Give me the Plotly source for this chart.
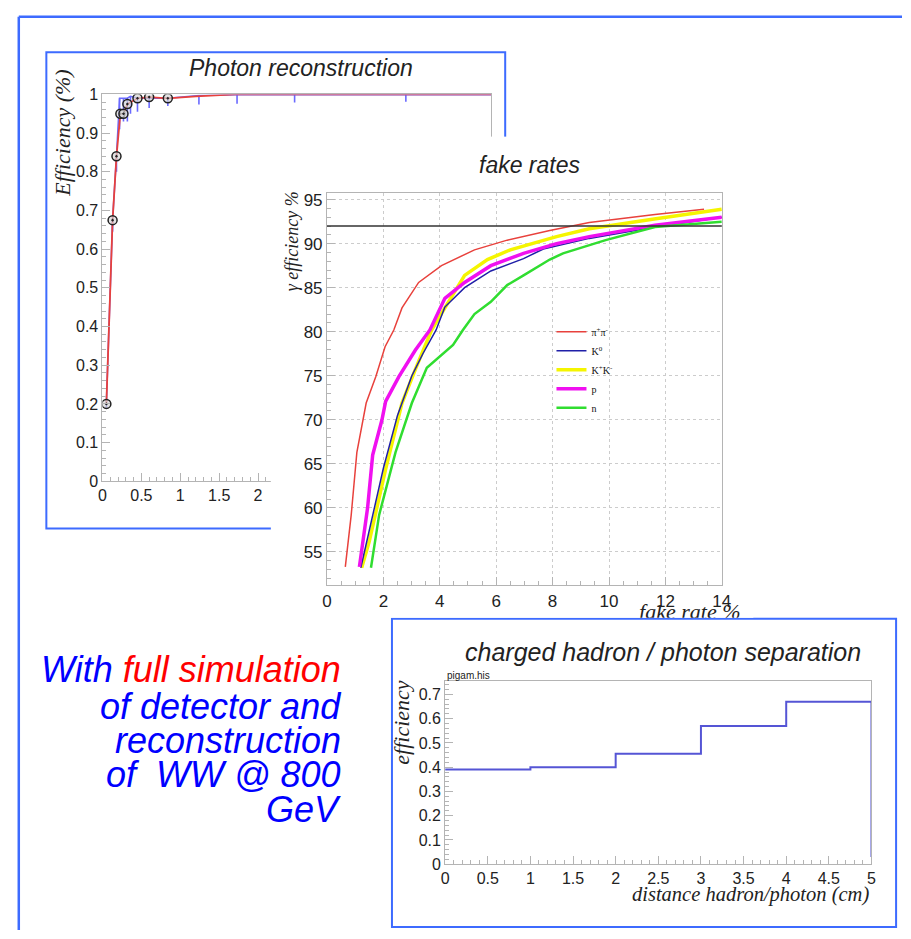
import plotly.graph_objects as go

W, H = 911, 939

# ---------------- data ----------------
# Panel 1: Photon reconstruction (efficiency vs. x)
PR_RED_X = [0.05, 0.13, 0.18, 0.23, 0.27, 0.32, 0.45, 0.6, 0.84, 1.2, 1.7, 2.5, 5.0]
PR_RED_Y = [0.2, 0.675, 0.84, 0.95, 0.95, 0.975, 0.99, 0.993, 0.99, 0.995, 1.0, 1.0, 1.0]
PR_BLUE_X = [0.05, 0.13, 0.18, 0.22, 0.27, 0.32, 0.36, 0.45, 0.6, 0.84, 1.24, 1.73, 2.47, 3.9, 5.0]
PR_BLUE_Y = [0.2, 0.675, 0.84, 0.99, 0.99, 0.99, 0.995, 0.99, 0.99, 0.99, 0.997, 0.999, 0.999, 0.999, 0.999]
PR_BLUE_ERR = [0.01, 0.03, 0.04, 0.08, 0.06, 0.06, 0.045, 0.035, 0.025, 0.02, 0.023, 0.023, 0.02, 0.018, 0.0]
PR_MARK_X = [0.05, 0.13, 0.18, 0.23, 0.27, 0.32, 0.45, 0.6, 0.84]
PR_MARK_Y = [0.2, 0.675, 0.84, 0.95, 0.95, 0.975, 0.99, 0.993, 0.99]

# Panel 2: fake rates (gamma efficiency % vs fake rate %)
FR_NAMES = ["π<sup>+</sup>π<sup>-</sup>", "K<sup>0</sup>", "K<sup>+</sup>K<sup>-</sup>", "p", "n"]
FR_PIPI_X = [0.65, 0.86, 1.06, 1.39, 1.73, 2.06, 2.37, 2.66, 3.25, 4.06, 5.23, 6.39, 7.9, 9.3, 11.63, 13.37]
FR_PIPI_Y = [53.3, 59.2, 66.3, 71.9, 74.9, 78.3, 80.2, 82.7, 85.6, 87.5, 89.3, 90.4, 91.5, 92.4, 93.3, 93.9]
FR_K0_X = [1.2, 1.5, 2.0, 2.5, 3.01, 3.4, 3.87, 4.18, 4.88, 5.81, 6.97, 7.67, 9.3, 11.63, 14.0]
FR_K0_Y = [53.2, 57.5, 64.5, 70.5, 75.0, 77.5, 80.2, 82.8, 85.0, 86.9, 88.3, 89.4, 90.6, 91.9, 93.0]
FR_KK_X = [1.23, 1.5, 2.08, 2.66, 3.13, 3.71, 4.18, 4.88, 5.69, 6.5, 8.14, 9.3, 11.6, 14.0]
FR_KK_Y = [53.2, 56.2, 64.4, 71.9, 75.7, 80.2, 82.7, 86.4, 88.2, 89.3, 90.8, 91.7, 92.8, 93.9]
FR_P_X = [1.15, 1.44, 1.62, 1.95, 2.08, 2.55, 3.13, 3.65, 4.18, 4.88, 5.81, 6.97, 8.14, 9.3, 11.63, 14.0]
FR_P_Y = [53.3, 60.0, 66.0, 70.0, 72.1, 74.9, 77.9, 80.2, 83.8, 85.6, 87.5, 88.9, 90.0, 90.8, 92.1, 93.0]
FR_N_X = [1.56, 1.85, 2.43, 3.01, 3.54, 4.0, 4.47, 4.82, 5.23, 5.81, 6.39, 6.97, 7.9, 8.37, 9.88, 11.63, 12.79, 14.0]
FR_N_Y = [53.2, 59.2, 66.3, 71.9, 75.9, 77.2, 78.5, 80.2, 82.0, 83.4, 85.3, 86.4, 88.2, 88.9, 90.4, 91.9, 92.2, 92.5]
FR_THRESHOLD = 92

# Panel 3: charged hadron / photon separation (histogram)
SEP_BIN_EDGES = [0, 1, 2, 3, 4, 5]
SEP_BIN_VALUES = [0.39, 0.40, 0.455, 0.57, 0.67]
SEP_END_VALUE = 0.03


def fx(p):
    """page pixel x -> paper fraction"""
    return p / W


def fy(p):
    """page pixel y -> paper fraction"""
    return 1 - p / H


SANS = "Liberation Sans, Arial, sans-serif"
SERIF = "Liberation Serif, Times New Roman, serif"
FRAME = "#3d6bff"
AXC = "#b4b4b4"
TXT = "#222222"

fig = go.Figure()

# ---- panel 1 traces ----
fig.add_trace(go.Scatter(
    x=PR_BLUE_X, y=PR_BLUE_Y, mode="lines", xaxis="x", yaxis="y",
    line=dict(color="#6a6aff", width=1.6),
    error_y=dict(type="data", symmetric=False, array=[0] * len(PR_BLUE_ERR),
                 arrayminus=PR_BLUE_ERR, color="#6a6aff", thickness=1.6, width=0),
    showlegend=False, hoverinfo="skip"))
fig.add_trace(go.Scatter(
    x=PR_RED_X, y=PR_RED_Y, mode="lines", xaxis="x", yaxis="y",
    line=dict(color="#e8413c", width=1.8), showlegend=False, hoverinfo="skip"))
fig.add_trace(go.Scatter(
    x=PR_MARK_X, y=PR_MARK_Y, mode="markers", xaxis="x", yaxis="y",
    marker=dict(symbol="circle-dot", size=9, color="rgba(215,215,215,0.7)",
                line=dict(color="#222", width=1.5)),
    showlegend=False, hoverinfo="skip"))

# ---- cover (white sheet of the fake-rate picture); its x/y are page pixels ----
fig.add_trace(go.Scatter(
    x=[747], y=[617], mode="text", xaxis="x2", yaxis="y2",
    text=["<i>fake rate %</i>"], textposition="middle left",
    textfont=dict(family=SERIF, size=22, color=TXT),
    cliponaxis=True, showlegend=False, hoverinfo="skip"))

# ---- panel 2 traces ----
series = [
    (FR_PIPI_X, FR_PIPI_Y, FR_NAMES[0], "#e8413c", 1.5, 1),
    (FR_KK_X, FR_KK_Y, FR_NAMES[2], "#f5f500", 3.5, 3),
    (FR_K0_X, FR_K0_Y, FR_NAMES[1], "#1f1fa8", 1.5, 2),
    (FR_P_X, FR_P_Y, FR_NAMES[3], "#f010f0", 3.5, 4),
    (FR_N_X, FR_N_Y, FR_NAMES[4], "#30dd30", 2.5, 5),
]
for sx, sy, name, col, lw, rank in series:
    fig.add_trace(go.Scatter(
        x=sx, y=sy, mode="lines", name=name, xaxis="x3", yaxis="y3",
        line=dict(color=col, width=lw), legendrank=rank, hoverinfo="skip"))

# ---- panel 3 trace ----
step_x = SEP_BIN_EDGES[:-1] + [SEP_BIN_EDGES[-1], SEP_BIN_EDGES[-1]]
step_y = SEP_BIN_VALUES + [SEP_BIN_VALUES[-1], SEP_END_VALUE]
fig.add_trace(go.Scatter(
    x=step_x, y=step_y, mode="lines", line_shape="hv", xaxis="x4", yaxis="y4",
    line=dict(color="#5555d5", width=2), showlegend=False, hoverinfo="skip"))


def axis(domain, rng, dtick, minor_dtick, anchor, grid=False, size=16):
    return dict(
        domain=domain, range=rng, anchor=anchor, dtick=dtick, tick0=0,
        ticks="inside", ticklen=8, tickwidth=1, tickcolor=AXC,
        showline=True, linecolor=AXC, linewidth=1, mirror=True,
        showgrid=grid, gridcolor="#cccccc", griddash="dot", gridwidth=1,
        zeroline=False, tickfont=dict(family=SANS, size=size, color=TXT),
        minor=dict(ticks="inside", ticklen=4, dtick=minor_dtick, tickcolor=AXC, showgrid=False),
        fixedrange=True,
    )


hidden = dict(showline=False, showgrid=False, zeroline=False, showticklabels=False,
              ticks="", fixedrange=True)

layout = dict(
    width=W, height=H, margin=dict(l=0, r=0, t=0, b=0),
    paper_bgcolor="white", plot_bgcolor="white",
    xaxis=axis([fx(99), fx(494)], [0, 5], 0.5, 0.1, "y"),
    yaxis=axis([fy(482), fy(88)], [0, 1], 0.1, 0.02, "x"),
    xaxis2=dict(domain=[fx(270), fx(760)], range=[270, 760], anchor="y2", **hidden),
    yaxis2=dict(domain=[fy(621), fy(131)], range=[621, 131], anchor="x2", **hidden),
    xaxis3=axis([fx(327), fx(728)], [0, 14], 2, 0.5, "y3", grid=True, size=17),
    yaxis3=axis([fy(588), fy(188)], [51.2, 95.8], 5, 1, "x3", grid=True, size=17),
    xaxis4=axis([fx(447), fx(880)], [0, 5], 0.5, 0.1, "y4"),
    yaxis4=axis([fy(872), fy(685)], [0, 0.757], 0.1, 0.02, "x4"),
    showlegend=True,
    legend=dict(x=fx(555), y=fy(315), xanchor="left", yanchor="top",
                bgcolor="rgba(0,0,0,0)", borderwidth=0, tracegroupgap=0,
                font=dict(family=SERIF, size=10, color="#111")),
)
fig.update_layout(**layout)

shapes = [
    dict(type="line", xref="paper", yref="paper", x0=fx(14), x1=fx(911), y0=fy(9), y1=fy(9),
         line=dict(color=FRAME, width=2.5), layer="below"),
    dict(type="line", xref="paper", yref="paper", x0=fx(14), x1=fx(14), y0=fy(9), y1=fy(939),
         line=dict(color=FRAME, width=2.5), layer="below"),
    dict(type="rect", xref="paper", yref="paper", x0=fx(42), x1=fx(508), y0=fy(530), y1=fy(45),
         line=dict(color=FRAME, width=2), layer="below"),
    dict(type="rect", xref="paper", yref="paper", x0=fx(393), x1=fx(905), y0=fy(936), y1=fy(622),
         line=dict(color=FRAME, width=2), layer="below"),
    dict(type="line", xref="x3 domain", yref="y3", x0=0, x1=1, y0=FR_THRESHOLD, y1=FR_THRESHOLD,
         line=dict(color="#333333", width=1.5), layer="above"),
]
fig.update_layout(shapes=shapes)


def ann(text, x, y, size, family=SANS, color=TXT, xanchor="center", angle=0):
    return dict(text=text, x=fx(x), y=fy(y), xref="paper", yref="paper", showarrow=False,
                xanchor=xanchor, yanchor="middle", textangle=angle,
                font=dict(family=family, size=size, color=color))


annotations = [
    ann("<i>Photon reconstruction</i>", 301, 61, 23),
    ann("<i>Efficiency (%)</i>", 59, 128, 22, SERIF, angle=-90),
    ann("<i>fake rates</i>", 533, 160, 23),
    ann("<i>γ efficiency %</i>", 291, 238, 18, SERIF, angle=-90),
    ann("<i>charged hadron / photon separation</i>", 668, 656, 25),
    ann("pigam.his", 447, 680, 10, xanchor="left"),
    ann("<i>efficiency</i>", 403, 727, 22, SERIF, angle=-90),
    ann("<i>distance hadron/photon (cm)</i>", 880, 903, 20.5, SERIF, xanchor="right"),
    ann("<i>With <span style='color:#ff0000'>full simulation</span></i>", 343, 674, 36,
        color="#0000ff", xanchor="right"),
    ann("<i>of detector and</i>", 343, 711, 36, color="#0000ff", xanchor="right"),
    ann("<i>reconstruction</i>", 343, 746, 36, color="#0000ff", xanchor="right"),
    ann("<i>of  WW @ 800</i>", 343, 781, 36, color="#0000ff", xanchor="right"),
    ann("<i>GeV</i>", 343, 816, 36, color="#0000ff", xanchor="right"),
]
fig.update_layout(annotations=annotations)

fig.write_html("out.html")
